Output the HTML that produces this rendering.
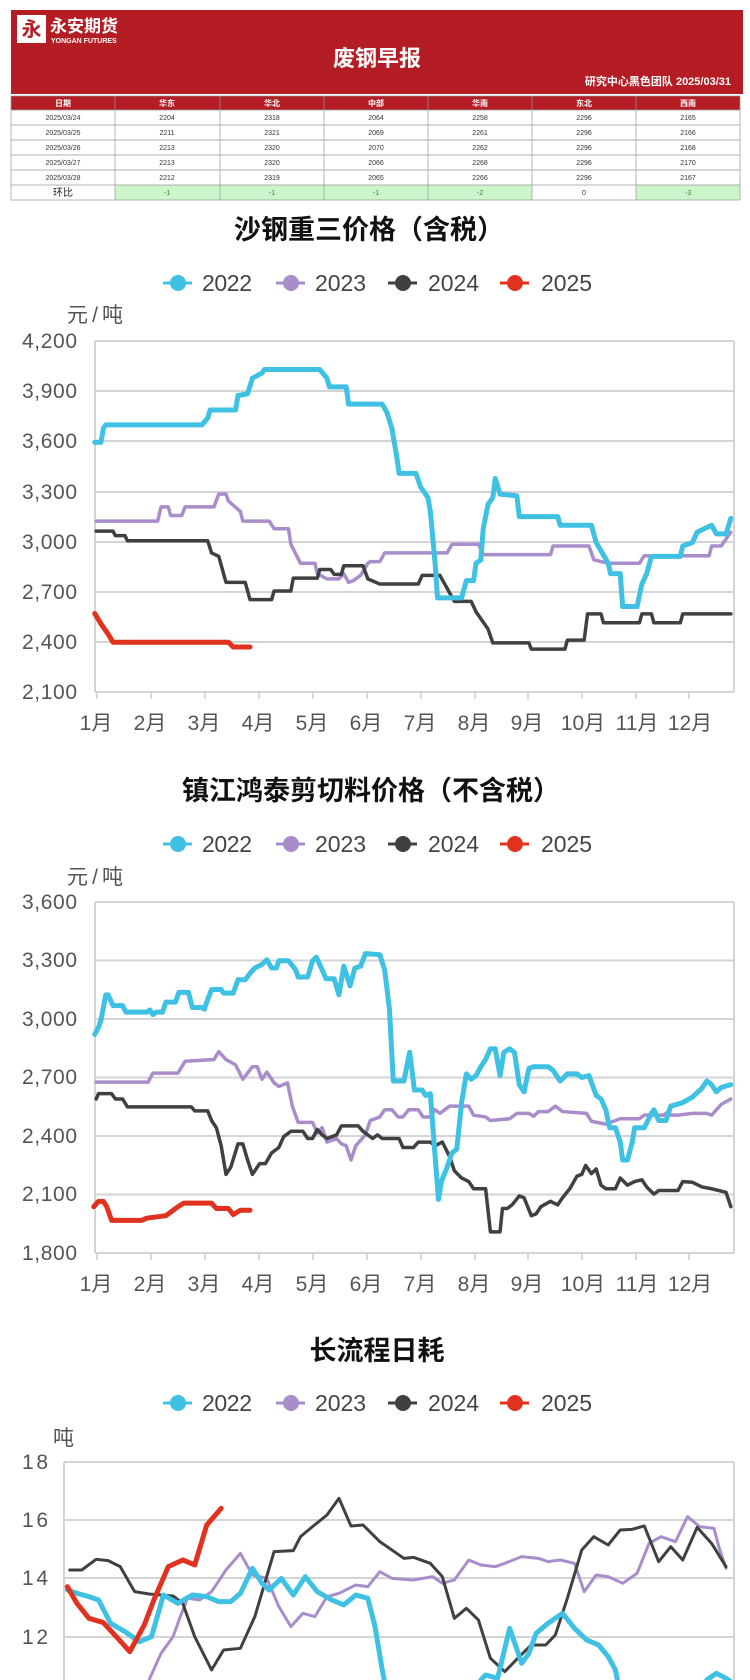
<!DOCTYPE html>
<html><head><meta charset="utf-8"><style>
html,body{margin:0;padding:0;background:#fff;width:750px;height:1680px;overflow:hidden}
svg{display:block}
text{font-family:"Liberation Sans","Noto Sans CJK SC",sans-serif}
.t{font-size:7px;fill:#333}
.h{font-size:8px;fill:#fff;font-weight:bold}
.ax{font-size:21px;fill:#555}
.ttl{font-size:27px;font-weight:bold;fill:#111}
.lg{font-size:23px;fill:#444}
.g{stroke:#d4d4d4;stroke-width:2}
.s{fill:none;stroke-linejoin:round;stroke-linecap:round}
</style></head><body>
<svg width="750" height="1680" viewBox="0 0 750 1680" xmlns="http://www.w3.org/2000/svg">
<defs>
<clipPath id="c3"><rect x="0" y="1400" width="750" height="280"/></clipPath>
</defs>
<!-- header -->
<rect x="11" y="10" width="732" height="84" fill="#b51d25"/>
<rect x="17" y="15" width="29" height="28" fill="#fff"/>
<text x="31.5" y="36" font-size="20" fill="#b51d25" text-anchor="middle" font-weight="bold">永</text>
<text x="50" y="32" font-size="17" fill="#fff" font-weight="bold">永安期货</text>
<text x="51" y="43" font-size="7" fill="#fff" font-weight="bold">YONGAN FUTURES</text>
<text x="377" y="66" font-size="22" fill="#fff" font-weight="bold" text-anchor="middle">废钢早报</text>
<text x="731" y="85" font-size="11" fill="#fff" font-weight="bold" text-anchor="end">研究中心黑色团队  2025/03/31</text>
<!-- table -->
<rect x="11" y="96" width="729" height="14" fill="#b51d25"/>
<g fill="#ccf5cc"><rect x="115" y="185" width="105" height="15"/><rect x="220" y="185" width="104" height="15"/><rect x="324" y="185" width="104" height="15"/><rect x="428" y="185" width="104" height="15"/><rect x="636" y="185" width="104" height="15"/></g>
<g stroke="#999" stroke-width="0.7" fill="none">
<rect x="11" y="96" width="729" height="104"/>
<line x1="11" y1="110" x2="740" y2="110"/><line x1="11" y1="125" x2="740" y2="125"/><line x1="11" y1="140" x2="740" y2="140"/><line x1="11" y1="155" x2="740" y2="155"/><line x1="11" y1="170" x2="740" y2="170"/><line x1="11" y1="185" x2="740" y2="185"/>
<line x1="115" y1="96" x2="115" y2="200"/><line x1="220" y1="96" x2="220" y2="200"/><line x1="324" y1="96" x2="324" y2="200"/><line x1="428" y1="96" x2="428" y2="200"/><line x1="532" y1="96" x2="532" y2="200"/><line x1="636" y1="96" x2="636" y2="200"/>
</g>
<g text-anchor="middle">
<text class="h" x="63" y="106">日期</text><text class="h" x="167" y="106">华东</text><text class="h" x="272" y="106">华北</text><text class="h" x="376" y="106">中部</text><text class="h" x="480" y="106">华南</text><text class="h" x="584" y="106">东北</text><text class="h" x="688" y="106">西南</text>
<text class="t" x="63" y="120">2025/03/24</text><text class="t" x="167" y="120">2204</text><text class="t" x="272" y="120">2318</text><text class="t" x="376" y="120">2064</text><text class="t" x="480" y="120">2258</text><text class="t" x="584" y="120">2296</text><text class="t" x="688" y="120">2165</text>
<text class="t" x="63" y="135">2025/03/25</text><text class="t" x="167" y="135">2211</text><text class="t" x="272" y="135">2321</text><text class="t" x="376" y="135">2069</text><text class="t" x="480" y="135">2261</text><text class="t" x="584" y="135">2296</text><text class="t" x="688" y="135">2166</text>
<text class="t" x="63" y="150">2025/03/26</text><text class="t" x="167" y="150">2213</text><text class="t" x="272" y="150">2320</text><text class="t" x="376" y="150">2070</text><text class="t" x="480" y="150">2262</text><text class="t" x="584" y="150">2296</text><text class="t" x="688" y="150">2168</text>
<text class="t" x="63" y="165">2025/03/27</text><text class="t" x="167" y="165">2213</text><text class="t" x="272" y="165">2320</text><text class="t" x="376" y="165">2066</text><text class="t" x="480" y="165">2268</text><text class="t" x="584" y="165">2296</text><text class="t" x="688" y="165">2170</text>
<text class="t" x="63" y="180">2025/03/28</text><text class="t" x="167" y="180">2212</text><text class="t" x="272" y="180">2319</text><text class="t" x="376" y="180">2065</text><text class="t" x="480" y="180">2266</text><text class="t" x="584" y="180">2296</text><text class="t" x="688" y="180">2167</text>
<text x="63" y="196" font-size="10" fill="#222">环比</text>
<g font-size="7" fill="#2a8a2a"><text x="167" y="195">-1</text><text x="272" y="195">-1</text><text x="376" y="195">-1</text><text x="480" y="195">-2</text><text x="584" y="195" fill="#333">0</text><text x="688" y="195">-3</text></g>
</g>

<!-- legends template function by repetition -->
<!-- CHART 1 -->
<text class="ttl" x="369" y="239" text-anchor="middle">沙钢重三价格（含税）</text>
<g transform="translate(0,283)">
<line x1="163" y1="0" x2="192" y2="0" stroke="#3ec1e3" stroke-width="3"/><circle cx="178" cy="0" r="8" fill="#3ec1e3"/><text class="lg" x="202" y="8" textLength="50">2022</text>
<line x1="276" y1="0" x2="305" y2="0" stroke="#a98dcb" stroke-width="3"/><circle cx="291" cy="0" r="8" fill="#a98dcb"/><text class="lg" x="315" y="8" textLength="51">2023</text>
<line x1="388" y1="0" x2="417" y2="0" stroke="#404040" stroke-width="3"/><circle cx="403" cy="0" r="8" fill="#404040"/><text class="lg" x="428" y="8" textLength="51">2024</text>
<line x1="500" y1="0" x2="529" y2="0" stroke="#e0321e" stroke-width="3"/><circle cx="515" cy="0" r="8" fill="#e0321e"/><text class="lg" x="541" y="8" textLength="51">2025</text>
</g>
<text class="ax" x="67" y="322" textLength="56">元/吨</text>
<g>
<line class="g" x1="95" y1="341" x2="734" y2="341"/><line class="g" x1="95" y1="391" x2="734" y2="391"/><line class="g" x1="95" y1="441" x2="734" y2="441"/><line class="g" x1="95" y1="492" x2="734" y2="492"/><line class="g" x1="95" y1="542" x2="734" y2="542"/><line class="g" x1="95" y1="592" x2="734" y2="592"/><line class="g" x1="95" y1="642" x2="734" y2="642"/><line class="g" x1="95" y1="692" x2="734" y2="692"/>
<line class="g" x1="95" y1="341" x2="95" y2="692"/><line class="g" x1="734" y1="341" x2="734" y2="692"/>
</g>
<g class="ax" text-anchor="end">
<text x="77" y="348" textLength="55">4,200</text><text x="77" y="398" textLength="55">3,900</text><text x="77" y="448" textLength="55">3,600</text><text x="77" y="499" textLength="55">3,300</text><text x="77" y="549" textLength="55">3,000</text><text x="77" y="599" textLength="55">2,700</text><text x="77" y="649" textLength="55">2,400</text><text x="77" y="699" textLength="55">2,100</text>
</g>
<g stroke="#ccc" stroke-width="1.5"><line x1="97" y1="692" x2="97" y2="699"/><line x1="151" y1="692" x2="151" y2="699"/><line x1="205" y1="692" x2="205" y2="699"/><line x1="259" y1="692" x2="259" y2="699"/><line x1="313" y1="692" x2="313" y2="699"/><line x1="367" y1="692" x2="367" y2="699"/><line x1="421" y1="692" x2="421" y2="699"/><line x1="475" y1="692" x2="475" y2="699"/><line x1="528" y1="692" x2="528" y2="699"/><line x1="582" y1="692" x2="582" y2="699"/><line x1="636" y1="692" x2="636" y2="699"/><line x1="689" y1="692" x2="689" y2="699"/></g>
<g class="ax" text-anchor="middle" font-size="22">
<text x="96" y="730">1月</text><text x="150" y="730">2月</text><text x="204" y="730">3月</text><text x="258" y="730">4月</text><text x="312" y="730">5月</text><text x="366" y="730">6月</text><text x="420" y="730">7月</text><text x="474" y="730">8月</text><text x="527" y="730">9月</text><text x="583" y="730">10月</text><text x="637" y="730">11月</text><text x="690" y="730">12月</text>
</g>
<g transform="translate(0,200) scale(0.4808,0.3460)">
<polyline class="s" vector-effect="non-scaling-stroke" stroke="#a98dcb" stroke-width="3.5" points="200,928 328,928 335,887 350,887 355,912 378,912 385,887 445,887 455,850 470,850 475,870 500,900 505,928 560,928 570,950 600,950 605,995 625,1050 655,1050 660,1080 680,1095 705,1095 715,1080 725,1105 735,1100 750,1085 765,1050 770,1045 790,1045 800,1020 930,1020 940,995 995,995 1005,1025 1145,1025 1150,1000 1225,1000 1235,1040 1265,1050 1330,1050 1340,1028 1475,1028 1480,1000 1500,1000 1520,960"/>
<polyline class="s" vector-effect="non-scaling-stroke" stroke="#404040" stroke-width="3.5" points="200,957 235,957 240,970 260,970 265,985 432,985 440,1020 455,1030 470,1105 510,1105 520,1155 565,1155 570,1130 605,1130 610,1093 660,1093 665,1068 688,1068 695,1082 710,1082 715,1057 755,1057 765,1095 790,1110 870,1110 878,1085 915,1085 925,1110 945,1160 980,1160 990,1190 1015,1240 1025,1280 1100,1280 1105,1298 1175,1298 1180,1272 1215,1272 1222,1196 1250,1196 1255,1222 1330,1222 1335,1196 1355,1196 1360,1222 1415,1222 1420,1196 1520,1196"/>
<polyline class="s" vector-effect="non-scaling-stroke" stroke="#3ec1e3" stroke-width="5" points="197,700 210,700 215,660 220,650 420,650 432,630 437,607 490,607 495,565 515,560 525,515 545,500 550,490 665,490 680,515 685,540 720,540 725,590 795,590 805,615 815,660 825,740 830,790 865,790 875,830 890,860 895,900 905,1050 910,1150 960,1150 970,1100 985,1100 990,1050 1000,1040 1005,950 1015,880 1025,860 1030,805 1040,850 1075,855 1080,915 1160,915 1165,940 1230,940 1240,990 1265,1050 1270,1080 1290,1080 1295,1175 1325,1175 1335,1110 1345,1080 1355,1030 1415,1030 1420,1000 1440,990 1450,960 1480,940 1490,965 1510,965 1520,920"/>
<polyline class="s" vector-effect="non-scaling-stroke" stroke="#e0321e" stroke-width="5" points="197,1195 210,1225 225,1255 235,1278 475,1278 485,1292 520,1292"/>
</g>

<!-- CHART 2 -->
<text class="ttl" x="371" y="800" text-anchor="middle">镇江鸿泰剪切料价格（不含税）</text>
<g transform="translate(0,844)">
<line x1="163" y1="0" x2="192" y2="0" stroke="#3ec1e3" stroke-width="3"/><circle cx="178" cy="0" r="8" fill="#3ec1e3"/><text class="lg" x="202" y="8" textLength="50">2022</text>
<line x1="276" y1="0" x2="305" y2="0" stroke="#a98dcb" stroke-width="3"/><circle cx="291" cy="0" r="8" fill="#a98dcb"/><text class="lg" x="315" y="8" textLength="51">2023</text>
<line x1="388" y1="0" x2="417" y2="0" stroke="#404040" stroke-width="3"/><circle cx="403" cy="0" r="8" fill="#404040"/><text class="lg" x="428" y="8" textLength="51">2024</text>
<line x1="500" y1="0" x2="529" y2="0" stroke="#e0321e" stroke-width="3"/><circle cx="515" cy="0" r="8" fill="#e0321e"/><text class="lg" x="541" y="8" textLength="51">2025</text>
</g>
<text class="ax" x="67" y="884" textLength="56">元/吨</text>
<g>
<line class="g" x1="95" y1="902" x2="734" y2="902"/><line class="g" x1="95" y1="960.5" x2="734" y2="960.5"/><line class="g" x1="95" y1="1019" x2="734" y2="1019"/><line class="g" x1="95" y1="1077.5" x2="734" y2="1077.5"/><line class="g" x1="95" y1="1136" x2="734" y2="1136"/><line class="g" x1="95" y1="1194.5" x2="734" y2="1194.5"/><line class="g" x1="95" y1="1253" x2="734" y2="1253"/>
<line class="g" x1="95" y1="902" x2="95" y2="1253"/><line class="g" x1="734" y1="902" x2="734" y2="1253"/>
</g>
<g class="ax" text-anchor="end">
<text x="77" y="909" textLength="55">3,600</text><text x="77" y="967" textLength="55">3,300</text><text x="77" y="1026" textLength="55">3,000</text><text x="77" y="1084" textLength="55">2,700</text><text x="77" y="1143" textLength="55">2,400</text><text x="77" y="1201" textLength="55">2,100</text><text x="77" y="1260" textLength="55">1,800</text>
</g>
<g stroke="#ccc" stroke-width="1.5"><line x1="97" y1="1253" x2="97" y2="1260"/><line x1="151" y1="1253" x2="151" y2="1260"/><line x1="205" y1="1253" x2="205" y2="1260"/><line x1="259" y1="1253" x2="259" y2="1260"/><line x1="313" y1="1253" x2="313" y2="1260"/><line x1="367" y1="1253" x2="367" y2="1260"/><line x1="421" y1="1253" x2="421" y2="1260"/><line x1="475" y1="1253" x2="475" y2="1260"/><line x1="528" y1="1253" x2="528" y2="1260"/><line x1="582" y1="1253" x2="582" y2="1260"/><line x1="636" y1="1253" x2="636" y2="1260"/><line x1="689" y1="1253" x2="689" y2="1260"/></g>
<g class="ax" text-anchor="middle" font-size="22">
<text x="96" y="1291">1月</text><text x="150" y="1291">2月</text><text x="204" y="1291">3月</text><text x="258" y="1291">4月</text><text x="312" y="1291">5月</text><text x="366" y="1291">6月</text><text x="420" y="1291">7月</text><text x="474" y="1291">8月</text><text x="527" y="1291">9月</text><text x="583" y="1291">10月</text><text x="637" y="1291">11月</text><text x="690" y="1291">12月</text>
</g>
<g transform="translate(0,740) scale(0.4808,0.3590)">
<polyline class="s" vector-effect="non-scaling-stroke" stroke="#a98dcb" stroke-width="3.5" points="200,953 308,953 318,928 370,928 385,895 445,890 455,868 470,890 490,905 505,945 525,910 535,910 545,945 555,925 570,955 580,965 598,955 608,1020 620,1065 650,1065 660,1095 670,1080 680,1120 700,1110 710,1125 720,1130 730,1170 740,1130 760,1100 770,1060 790,1050 800,1030 815,1030 828,1050 838,1050 850,1030 870,1030 880,1050 895,1050 905,1030 915,1040 935,1020 975,1020 985,1045 1010,1050 1020,1060 1060,1055 1075,1040 1100,1040 1110,1048 1120,1035 1140,1035 1155,1020 1170,1035 1220,1040 1230,1062 1260,1070 1290,1055 1330,1055 1340,1045 1380,1045 1390,1035 1395,1045 1410,1045 1440,1040 1470,1040 1480,1045 1500,1015 1520,1000"/>
<polyline class="s" vector-effect="non-scaling-stroke" stroke="#404040" stroke-width="3.5" points="200,1000 205,985 232,985 240,1000 255,1000 265,1022 398,1022 405,1033 432,1033 440,1060 450,1080 460,1130 470,1210 480,1190 495,1125 505,1125 515,1170 525,1210 540,1180 552,1180 565,1150 580,1135 590,1105 605,1090 630,1090 640,1110 650,1110 660,1085 670,1100 680,1110 700,1100 710,1075 745,1075 755,1090 765,1100 775,1110 785,1100 795,1110 830,1110 838,1135 860,1135 870,1120 895,1120 905,1130 920,1120 935,1160 945,1200 960,1220 975,1230 985,1250 1010,1250 1020,1370 1040,1370 1045,1305 1055,1305 1065,1295 1080,1270 1090,1275 1105,1325 1115,1320 1125,1300 1145,1285 1160,1295 1170,1275 1185,1250 1200,1215 1210,1210 1218,1185 1230,1208 1240,1195 1250,1240 1260,1250 1280,1250 1290,1220 1305,1240 1320,1230 1335,1225 1345,1245 1360,1265 1370,1255 1410,1255 1420,1230 1440,1232 1460,1245 1480,1250 1510,1260 1520,1300"/>
<polyline class="s" vector-effect="non-scaling-stroke" stroke="#3ec1e3" stroke-width="5" points="197,820 205,800 210,780 220,710 225,710 235,740 255,740 262,758 305,758 312,752 318,765 325,758 338,758 345,730 365,730 372,703 392,703 400,745 420,745 425,750 430,730 440,695 460,695 465,705 485,705 495,668 510,668 520,650 530,635 545,625 555,612 565,635 575,635 580,615 600,615 615,640 620,660 640,660 650,615 658,605 670,640 678,665 695,665 705,710 715,630 728,685 738,635 750,630 760,595 790,598 800,640 810,750 818,950 840,950 852,870 862,975 878,975 885,990 895,985 905,1160 912,1280 918,1230 930,1190 940,1150 950,1140 960,1010 970,930 980,945 990,935 1000,910 1010,890 1020,860 1030,860 1040,935 1048,870 1060,860 1070,870 1080,960 1090,980 1100,915 1110,910 1140,910 1150,920 1165,950 1180,930 1200,930 1210,940 1225,935 1240,990 1250,1000 1260,1030 1268,1080 1280,1080 1290,1120 1295,1170 1305,1170 1315,1120 1320,1080 1340,1080 1355,1040 1360,1030 1370,1060 1385,1060 1395,1020 1420,1010 1440,995 1460,970 1470,950 1480,960 1490,980 1500,968 1520,960"/>
<polyline class="s" vector-effect="non-scaling-stroke" stroke="#e0321e" stroke-width="5" points="195,1300 205,1285 215,1285 222,1300 232,1338 295,1338 305,1332 345,1325 355,1315 370,1300 382,1290 440,1290 450,1305 475,1305 485,1322 500,1310 520,1310"/>
</g>

<!-- CHART 3 -->
<text class="ttl" x="377" y="1360" text-anchor="middle">长流程日耗</text>
<g transform="translate(0,1403)">
<line x1="163" y1="0" x2="192" y2="0" stroke="#3ec1e3" stroke-width="3"/><circle cx="178" cy="0" r="8" fill="#3ec1e3"/><text class="lg" x="202" y="8" textLength="50">2022</text>
<line x1="276" y1="0" x2="305" y2="0" stroke="#a98dcb" stroke-width="3"/><circle cx="291" cy="0" r="8" fill="#a98dcb"/><text class="lg" x="315" y="8" textLength="51">2023</text>
<line x1="388" y1="0" x2="417" y2="0" stroke="#404040" stroke-width="3"/><circle cx="403" cy="0" r="8" fill="#404040"/><text class="lg" x="428" y="8" textLength="51">2024</text>
<line x1="500" y1="0" x2="529" y2="0" stroke="#e0321e" stroke-width="3"/><circle cx="515" cy="0" r="8" fill="#e0321e"/><text class="lg" x="541" y="8" textLength="51">2025</text>
</g>
<text class="ax" x="53" y="1445">吨</text>
<g>
<line class="g" x1="64" y1="1462" x2="734" y2="1462"/><line class="g" x1="64" y1="1520" x2="734" y2="1520"/><line class="g" x1="64" y1="1578" x2="734" y2="1578"/><line class="g" x1="64" y1="1637" x2="734" y2="1637"/>
<line class="g" x1="64" y1="1462" x2="64" y2="1680"/><line class="g" x1="734" y1="1462" x2="734" y2="1680"/>
</g>
<g class="ax" text-anchor="end">
<text x="48" y="1469" textLength="26">18</text><text x="48" y="1527" textLength="26">16</text><text x="48" y="1585" textLength="26">14</text><text x="48" y="1644" textLength="26">12</text>
</g>
<g clip-path="url(#c3)">
<g transform="translate(0,1440) scale(0.4808,0.3333)">
<polyline class="s" vector-effect="non-scaling-stroke" stroke="#a98dcb" stroke-width="3" points="300,780 310,720 335,640 360,590 375,530 390,475 415,480 440,455 470,390 500,340 525,405 555,415 580,500 605,560 630,520 655,530 680,470 705,460 740,435 765,440 790,395 815,415 860,420 900,410 920,430 945,420 975,360 1000,375 1030,380 1050,370 1085,350 1120,355 1140,365 1165,360 1195,370 1215,455 1240,405 1265,410 1295,430 1325,400 1350,310 1375,290 1405,305 1430,230 1455,260 1485,265 1495,320 1510,385"/>
<polyline class="s" vector-effect="non-scaling-stroke" stroke="#404040" stroke-width="3" points="145,390 170,390 200,358 225,362 250,380 280,455 310,462 335,465 360,468 380,490 405,590 440,690 465,630 500,625 530,530 570,335 610,332 625,290 650,260 680,225 705,175 730,258 755,255 790,305 825,340 840,355 860,352 895,370 920,410 945,535 970,505 995,540 1020,655 1050,695 1080,650 1105,615 1135,615 1155,585 1180,475 1210,330 1235,290 1265,315 1290,270 1315,268 1340,258 1370,365 1395,320 1420,360 1450,262 1480,310 1510,380"/>
<polyline class="s" vector-effect="non-scaling-stroke" stroke="#3ec1e3" stroke-width="5" points="140,450 160,460 185,470 205,480 230,550 260,575 290,605 315,590 340,465 370,490 400,465 430,470 455,485 480,485 500,460 525,385 545,430 560,450 585,415 610,465 635,410 660,455 690,480 715,495 740,465 765,475 780,560 795,690 810,800"/>
<polyline class="s" vector-effect="non-scaling-stroke" stroke="#3ec1e3" stroke-width="5" points="990,800 1000,720 1010,705 1035,715 1060,565 1085,670 1100,640 1115,580 1140,550 1170,520 1195,565 1220,600 1245,615 1265,650 1280,690 1295,800"/>
<polyline class="s" vector-effect="non-scaling-stroke" stroke="#3ec1e3" stroke-width="5" points="1460,800 1470,720 1490,700 1510,715 1520,725"/>
<polyline class="s" vector-effect="non-scaling-stroke" stroke="#e0321e" stroke-width="5" points="140,440 160,490 185,535 215,548 245,595 270,635 300,555 320,480 350,380 380,360 405,375 430,255 460,205"/>
</g>
</g>
</svg>
</body></html>
